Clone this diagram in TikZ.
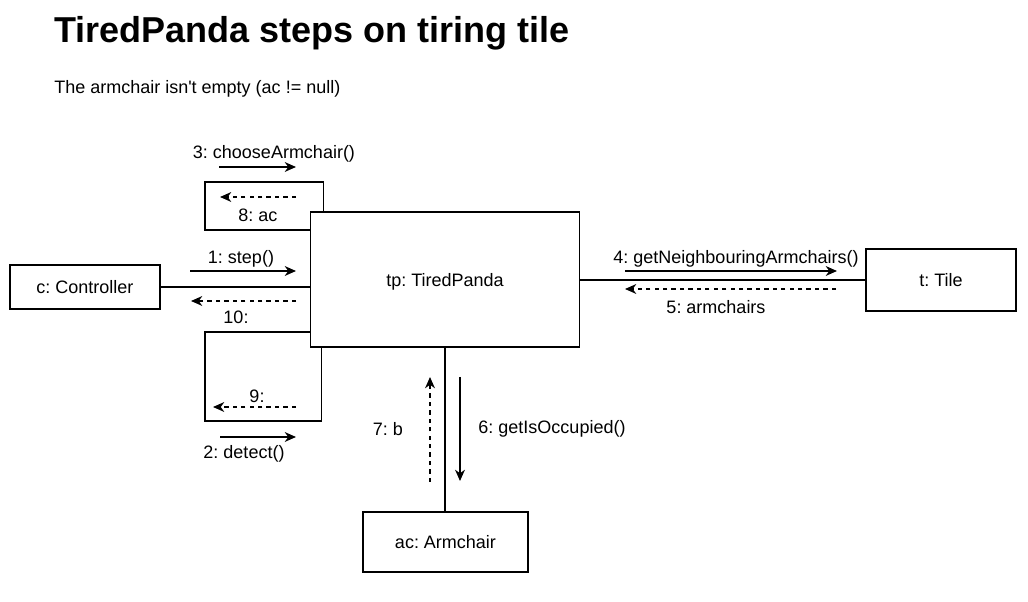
\documentclass[tikz,border=0pt]{standalone}
\usepackage{fontspec}
\setmainfont{Liberation Sans}
\usetikzlibrary{arrows.meta}
\frenchspacing

\tikzset{
  obj/.style={draw, line width=1pt, inner sep=0pt, text depth=0pt, font=\fontsize{12.8}{15}\selectfont},
  lbl/.style={inner sep=0pt, yshift=-1.5pt, font=\fontsize{12.8}{15}\selectfont},
  msg/.style={-{Stealth[length=8pt,width=7pt,inset=2.5pt]}, line width=1pt},
  ret/.style={msg, dash pattern=on 3pt off 3pt},
  link/.style={line width=1pt}
}

\begin{document}
\begin{tikzpicture}[x=0.025cm, y=-0.025cm]
  \useasboundingbox (0,0) rectangle (1028,602);

  % Title and condition
  \node[anchor=west, inner sep=0pt, font=\fontsize{25.6}{30}\selectfont\bfseries] (title) at (54,33) {TiredPanda steps on tiring tile};
  \node[anchor=west, lbl] (cond) at (54,87) {The armchair isn\textquotesingle t empty (ac != null)};

  % Objects
  \node[obj, minimum width=3.75cm, minimum height=1.1cm] (ctrl) at (85,287) {c: Controller};
  \node[obj, minimum width=6.725cm, minimum height=3.375cm] (tp) at (445,279.5) {tp: TiredPanda};
  \node[obj, minimum width=3.75cm, minimum height=1.55cm] (tile) at (941,280) {t: Tile};
  \node[obj, minimum width=4.125cm, minimum height=1.5cm] (ac) at (445.5,542) {ac: Armchair};

  % Links
  \draw[link] (ctrl.east) -- (ctrl.east -| tp.west);
  \draw[link] (tp.east |- tile.west) -- (tile.west);
  \draw[link] (tp.south) -- (tp.south |- ac.north);

  % Self links on tp
  \draw[link] (tp.north west) ++(14,0) |- (205,182) |- (tp.west |- 0,230);
  \draw[link] (tp.south west) ++(12,0) |- (205,421) |- (tp.west |- 0,332);

  % Messages c -> tp
  \draw[msg] (190,271) -- (296,271);
  \node[lbl] (m1) at (241,257) {1: step()};
  \draw[ret] (296,301) -- (191,301);
  \node[lbl] (m10) at (236,315) {10:};

  % Messages tp -> tp (top)
  \draw[msg] (219,167) -- (296,167);
  \node[lbl] (m3) at (274,152) {3: chooseArmchair()};
  \draw[ret] (296,197) -- (220,197);
  \node[lbl] (m8) at (258,213) {8: ac};

  % Messages tp -> tp (bottom)
  \draw[ret] (296,407) -- (213,407);
  \node[lbl] (m9) at (257,394) {9:};
  \draw[msg] (220,437) -- (296,437);
  \node[lbl] (m2) at (244,452) {2: detect()};

  % Messages tp -> t
  \draw[msg] (625,271) -- (837,271);
  \node[lbl] (m4) at (736,257) {4: getNeighbouringArmchairs()};
  \draw[ret] (836,289) -- (625,289);
  \node[lbl] (m5) at (716,305) {5: armchairs};

  % Messages tp -> ac
  \draw[msg] (460,377) -- (460,481);
  \node[lbl] (m6) at (552,427) {6: getIsOccupied()};
  \draw[ret] (430,482) -- (430,377);
  \node[lbl] (m7) at (388,427) {7: b};
\end{tikzpicture}
\end{document}
